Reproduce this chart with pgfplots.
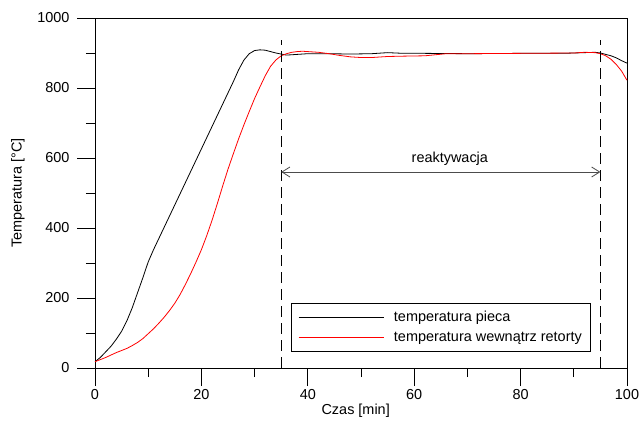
\documentclass[border=0pt]{standalone}
\usepackage{fontspec}
\setmainfont{Liberation Sans}
\usepackage{pgfplots}
\pgfplotsset{compat=1.18}
\usetikzlibrary{arrows.meta}

\begin{document}
\begin{tikzpicture}
\path[use as bounding box] (-95bp,-59bp) rectangle (544bp,368bp);
\begin{axis}[
  at={(0,0)}, anchor=origin,
  scale only axis, width=532bp, height=350bp,
  xmin=0, xmax=100, ymin=0, ymax=1000,
  xtick={0,20,...,100}, ytick={0,200,...,1000},
  minor x tick num=1, minor y tick num=1,
  tick align=outside, xtick pos=left, ytick pos=left,
  major tick length=18bp, minor tick length=9bp,
  every tick/.style={black, line width=0.8bp},
  axis line style={line width=0.8bp},
  /pgf/number format/assume math mode=true,
  /pgf/number format/1000 sep={},
  tick label style={font=\fontsize{14.5}{16}\selectfont},
  yticklabel={\pgfmathprintnumber{\tick}\hspace*{4bp}},
  label style={font=\fontsize{14.5}{16}\selectfont},
  xlabel={Czas [min]}, ylabel={Temperatura [°C]},
  xlabel style={at={(axis description cs:0.49,-0.123)}, anchor=center},
  ylabel style={at={(axis description cs:-0.145,0.5)}, anchor=center},
  legend style={at={(axis cs:36.8,186)}, anchor=north west,
    draw=black, line width=0.8bp, fill=white,
    font=\fontsize{14.5}{16}\selectfont,
    inner xsep=7bp, inner ysep=6bp, row sep=5bp,
    legend image code/.code={\draw[#1] (0bp,0bp) -- (85bp,0bp); \path (93bp,0bp);}},
  legend cell align=left,
]
\addplot[black, line width=0.8bp] coordinates {
(0,18) (1,30) (2,46) (3,62) (4,82) (5,105) (6,135) (7,172) (8,215) (9,258)
(10,303) (11,338) (12,370) (13,402) (14,434) (15,466) (16,498) (17,530) (18,562) (19,594)
(20,626) (21,658) (22,690) (23,722) (24,754) (25,786) (26,818) (27,852) (28,880) (29,898)
(30,907) (31,909) (32,908) (33,904) (34,900) (35,897) (36,894) (38,896) (40,898) (44,898)
(48,897) (52,898) (55,901) (58,899) (62,899) (70,898) (80,899) (88,899) (92,901) (94,902)
(95,900) (96,896) (97,892) (98,886) (99,878) (100,871)};
\addlegendentry{temperatura pieca}
\addplot[red, line width=0.8bp] coordinates {
(0,18) (1,24) (2,30) (3,37) (4,44) (5,50) (6,56) (7,64) (8,73) (9,84)
(10,98) (11,112) (12,128) (13,145) (14,164) (15,185) (16,210) (17,239) (18,270) (19,303)
(20,338) (21,378) (22,422) (23,470) (24,520) (25,568) (26,612) (27,655) (28,695) (29,733)
(30,770) (31,803) (32,835) (33,862) (34,880) (35,892) (36,898) (37,902) (38,904) (39,905)
(40,904) (42,902) (44,898) (46,893) (48,889) (50,887) (52,887) (55,890) (58,891) (62,892)
(64,895) (66,898) (70,898) (80,899) (90,900) (92,902) (94,901) (95,898) (96,892) (97,882)
(98,867) (99,848) (100,822)};
\addlegendentry{temperatura wewnątrz retorty}
\draw[black, line width=0.8bp, dash pattern=on 11bp off 6bp] (axis cs:35,0) -- (axis cs:35,937);
\draw[black, line width=0.8bp, dash pattern=on 11bp off 6bp] (axis cs:95,0) -- (axis cs:95,937);
\draw[black!70, line width=0.8bp, {Straight Barb[length=8bp,width=10bp]}-{Straight Barb[length=8bp,width=10bp]}] (axis cs:35,560) -- (axis cs:95,560);
\node[font=\fontsize{14.5}{16}\selectfont] at (axis cs:66.7,598) {reaktywacja};
\end{axis}
\end{tikzpicture}
\end{document}
